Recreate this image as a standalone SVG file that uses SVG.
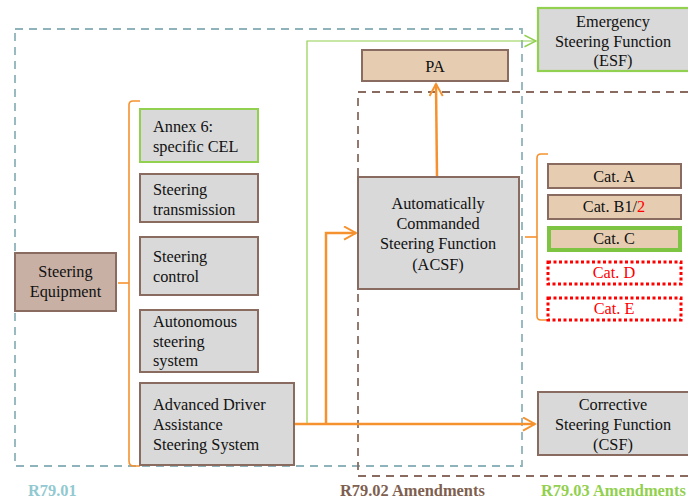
<svg xmlns="http://www.w3.org/2000/svg" width="688" height="501" viewBox="0 0 688 501">
<defs>
<style>
text{font-family:'Liberation Serif','Times New Roman',serif;font-size:16.3px;fill:#111}
.c{text-anchor:middle}
.gray{fill:#d9d9d9;stroke:#8a6b5f;stroke-width:2}
.tan{fill:#e6cdb2;stroke:#8a6b5f;stroke-width:2}
.grn{fill:#d9d9d9;stroke:#92d050;stroke-width:2}
.red{fill:#fff;stroke:#ff0000;stroke-width:3;stroke-dasharray:3 2.5}
.org{fill:none;stroke:#f5922f;stroke-width:2.5}
.brk{fill:none;stroke:#f5922f;stroke-width:1.6}
.lbl{font-weight:bold;font-size:16.4px}
</style>
<marker id="ah" viewBox="0 0 10 10" refX="9" refY="5" markerWidth="6" markerHeight="6" orient="auto" markerUnits="strokeWidth">
<path d="M1,0.6 L9,5 L1,9.4" fill="none" stroke="#f5922f" stroke-width="1.3"/>
</marker>
<marker id="ahg" viewBox="0 0 10 10" refX="9" refY="5" markerWidth="12" markerHeight="12" orient="auto" markerUnits="strokeWidth">
<path d="M1,1 L9,5 L1,9" fill="none" stroke="#92d050" stroke-width="1"/>
</marker>
</defs>

<g id="regions">
<rect x="15" y="29" width="507" height="437" fill="none" stroke="#8fb3bb" stroke-width="1.8" stroke-dasharray="8 6"/>
<path d="M688,92 H358 V476 H688" fill="none" stroke="#8a6b5f" stroke-width="1.8" stroke-dasharray="8 6"/>
</g>

<g id="connectors">
<path class="brk" d="M140,101 H133 Q129,101 129,105 V461 Q129,466 134,466 H140"/>
<path class="brk" d="M118,283 H129"/>
<path class="brk" d="M548,154 H541 Q537,154 537,158 V316 Q537,320 541,320 H548"/>
<path class="brk" d="M525,237 H537"/>
<path d="M307,424 V41 H536" fill="none" stroke="#92d050" stroke-width="1.2" marker-end="url(#ahg)"/>
<path class="org" d="M294,424 H535" marker-end="url(#ah)"/>
<path class="org" d="M326,424 V233 H356" marker-end="url(#ah)"/>
<path class="org" d="M437,177 L436,84" marker-end="url(#ah)"/>
</g>

<g id="steering-equipment">
<rect x="15" y="253" width="101" height="58" fill="#c8b0a4" stroke="#8a6b5f" stroke-width="2"/>
<text class="c" x="65.5" y="277">Steering</text>
<text class="c" x="65.5" y="297">Equipment</text>
</g>

<g id="annex6">
<rect class="grn" x="140" y="109" width="118" height="53"/>
<text x="153" y="132">Annex 6:</text>
<text x="153" y="152">specific CEL</text>
</g>
<g id="steering-transmission">
<rect class="gray" x="140" y="174" width="118" height="48"/>
<text x="153" y="195">Steering</text>
<text x="153" y="215">transmission</text>
</g>
<g id="steering-control">
<rect class="gray" x="140" y="237" width="118" height="58"/>
<text x="153" y="262">Steering</text>
<text x="153" y="282">control</text>
</g>
<g id="autonomous">
<rect class="gray" x="140" y="310" width="118" height="62"/>
<text x="153" y="327">Autonomous</text>
<text x="153" y="347">steering</text>
<text x="153" y="366">system</text>
</g>
<g id="adas">
<rect class="gray" x="140" y="383" width="154" height="82"/>
<text x="153" y="410">Advanced Driver</text>
<text x="153" y="430">Assistance</text>
<text x="153" y="450">Steering  System</text>
</g>

<g id="pa">
<rect class="tan" x="362" y="50" width="146" height="31"/>
<text class="c" x="435" y="72">PA</text>
</g>
<g id="acsf">
<rect class="gray" x="358" y="177" width="161" height="112"/>
<text class="c" x="438" y="209">Automatically</text>
<text class="c" x="438" y="229">Commanded</text>
<text class="c" x="438" y="249">Steering Function</text>
<text class="c" x="438" y="270">(ACSF)</text>
</g>

<g id="esf">
<rect x="538" y="8" width="152" height="63" fill="#d9d9d9" stroke="#92d050" stroke-width="2.2"/>
<text class="c" x="613" y="27">Emergency</text>
<text class="c" x="613" y="47">Steering  Function</text>
<text class="c" x="613" y="66">(ESF)</text>
</g>
<g id="csf">
<rect class="gray" x="538" y="392" width="152" height="63"/>
<text class="c" x="613" y="410">Corrective</text>
<text class="c" x="613" y="430">Steering  Function</text>
<text class="c" x="613" y="450">(CSF)</text>
</g>

<g id="cat-a">
<rect class="tan" x="548" y="164" width="133" height="24"/>
<text class="c" x="614" y="182">Cat. A</text>
</g>
<g id="cat-b">
<rect class="tan" x="548" y="195" width="133" height="24"/>
<text class="c" x="614" y="212">Cat. B1/<tspan style="fill:#ff0000">2</tspan></text>
</g>
<g id="cat-c">
<rect x="549" y="228" width="131" height="22" fill="#e6cdb2" stroke="#7dc442" stroke-width="4"/>
<text class="c" x="614" y="244">Cat. C</text>
</g>
<g id="cat-d">
<rect class="red" x="548" y="262" width="133" height="22"/>
<text class="c" x="614" y="278" style="fill:#ff0000">Cat. D</text>
</g>
<g id="cat-e">
<rect class="red" x="548" y="298" width="133" height="22"/>
<text class="c" x="614" y="314" style="fill:#ff0000">Cat. E</text>
</g>

<g id="labels">
<text class="lbl" x="28" y="496" style="fill:#92c9d1">R79.01</text>
<text class="lbl" x="340" y="496" style="fill:#7f5f50">R79.02 Amendments</text>
<text class="lbl" x="541" y="496" style="fill:#92d050">R79.03 Amendments</text>
</g>
</svg>
